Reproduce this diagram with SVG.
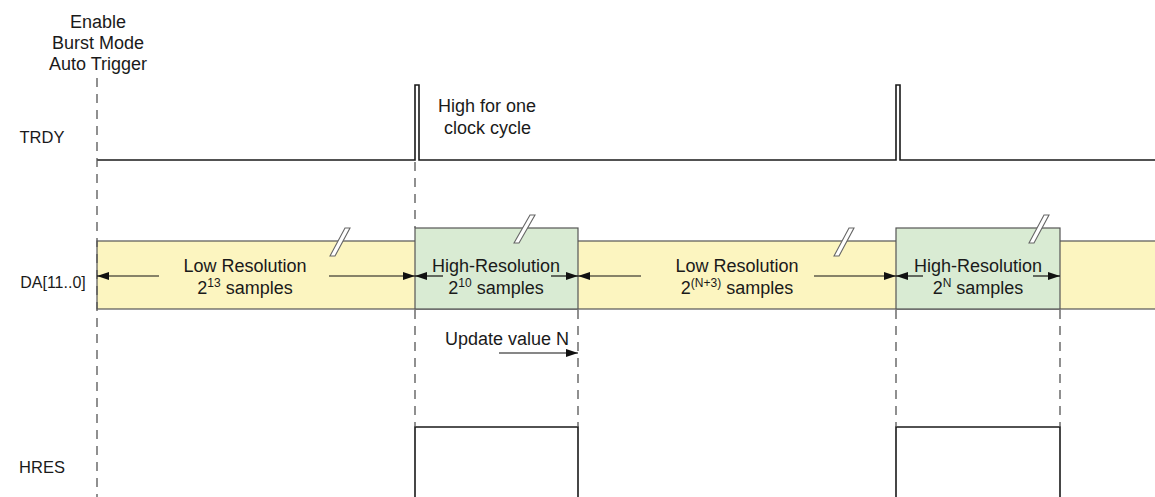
<svg xmlns="http://www.w3.org/2000/svg" width="1155" height="497" viewBox="0 0 1155 497">
<style>
text{font-family:"Liberation Sans",Arial,sans-serif;font-size:18px;fill:#1a1a1a}
.c{text-anchor:middle}
.lbl{font-size:16.5px}
.da{font-size:16px}
.sup{font-size:12px}
.sig{fill:none;stroke:#1a1a1a;stroke-width:1.6}
.dash{fill:none;stroke:#555;stroke-width:1.3;stroke-dasharray:9 7}
.low{fill:#fcf5c0;stroke:#555;stroke-width:1.2}
.high{fill:#d9ebd3;stroke:#555;stroke-width:1.2}
.arr{stroke:#111;stroke-width:1.2;fill:none;marker-end:url(#ah)}
.brk{fill:#fff;stroke:#666;stroke-width:1.1}
</style>
<defs>
<marker id="ah" viewBox="0 0 12 8" refX="12" refY="4" markerWidth="12" markerHeight="8" markerUnits="userSpaceOnUse" orient="auto">
<path d="M0,0 L12,4 L0,8 Z" fill="#111"/>
</marker>
</defs>
<g id="labels">
<text class="c" x="98" y="28">Enable</text>
<text class="c" x="98" y="49">Burst Mode</text>
<text class="c" x="98" y="70">Auto Trigger</text>
<text class="c lbl" x="42" y="143">TRDY</text>
<text class="c da" x="53" y="288">DA[11..0]</text>
<text class="c lbl" x="42" y="473">HRES</text>
<text x="438" y="112">High for one</text>
<text x="444" y="134">clock cycle</text>
</g>
<g id="bus">
<rect id="low1" class="low" x="97" y="241" width="1070" height="68"/>
<rect id="high1" class="high" x="415" y="228" width="163" height="81"/>
<rect id="high2" class="high" x="896" y="228" width="164" height="81"/>
</g>
<g id="breaks">
<polygon class="brk" points="330,256 345,228 350,228 335,256"/>
<polygon class="brk" points="514,243 530,215 535,215 519,243"/>
<polygon class="brk" points="834,256 849,228 854,228 839,256"/>
<polygon class="brk" points="1029,243 1044,215 1049,215 1034,243"/>
</g>
<g id="signals">
<path class="sig" d="M97,160 H415 V85 H419 V160 H896 V85 H900 V160 H1155"/>
<path class="sig" d="M415,497 V427 H578 V497"/>
<path class="sig" d="M896,497 V427 H1060 V497"/>
</g>
<g id="connectors">
<line class="dash" x1="97" y1="78" x2="97" y2="497"/>
<line class="dash" x1="415" y1="162" x2="415" y2="228"/>
<line class="dash" x1="415" y1="310" x2="415" y2="427"/>
<line class="dash" x1="578" y1="310" x2="578" y2="427"/>
<line class="dash" x1="896" y1="310" x2="896" y2="427"/>
<line class="dash" x1="1060" y1="310" x2="1060" y2="427"/>
<line class="arr" x1="159" y1="276" x2="97" y2="276"/>
<line class="arr" x1="329" y1="276" x2="415" y2="276"/>
<line class="arr" x1="443" y1="276" x2="415" y2="276"/>
<line class="arr" x1="551" y1="276" x2="578" y2="276"/>
<line class="arr" x1="641" y1="276" x2="578" y2="276"/>
<line class="arr" x1="814" y1="276" x2="896" y2="276"/>
<line class="arr" x1="923" y1="276" x2="896" y2="276"/>
<line class="arr" x1="1033" y1="276" x2="1060" y2="276"/>
<line class="arr" x1="499" y1="353" x2="578" y2="353"/>
</g>
<g id="bus-text">
<text class="c" x="245" y="272">Low Resolution</text>
<text class="c" x="245" y="294">2<tspan class="sup" dy="-7">13</tspan><tspan dy="7"> samples</tspan></text>
<text class="c" x="496" y="272">High-Resolution</text>
<text class="c" x="496" y="294">2<tspan class="sup" dy="-7">10</tspan><tspan dy="7"> samples</tspan></text>
<text class="c" x="737" y="272">Low Resolution</text>
<text class="c" x="737" y="294">2<tspan class="sup" dy="-7">(N+3)</tspan><tspan dy="7"> samples</tspan></text>
<text class="c" x="978" y="272">High-Resolution</text>
<text class="c" x="978" y="294">2<tspan class="sup" dy="-7">N</tspan><tspan dy="7"> samples</tspan></text>
<text x="445" y="345">Update value N</text>
</g>
</svg>
